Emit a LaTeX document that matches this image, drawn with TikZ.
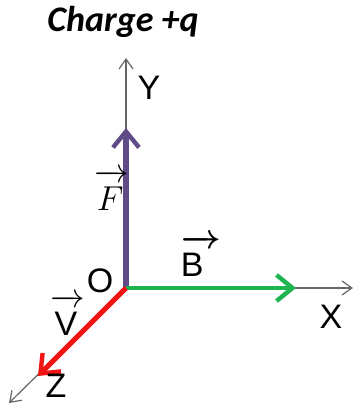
\documentclass[tikz,border=0pt]{standalone}
\usepackage{amsmath}
\usepackage{fontspec}
\setmainfont{Liberation Sans}
\newfontfamily\calfont{Carlito}
\usepackage{tikz}
\usetikzlibrary{arrows.meta,positioning}

\begin{document}
\begin{tikzpicture}[
  x=0.5pt, y=-0.5pt,
  axis/.style={draw=gray!80!black, line width=0.6pt,
    -{Straight Barb[length=5pt, width=7pt]}},
  vec/.style={-{Straight Barb[length=8pt, width=13pt, line width=2.2pt]}},
  lbl/.style={font=\fontsize{17}{19}\selectfont, inner sep=0pt, anchor=base}
]
  \useasboundingbox (0,0) rectangle (354,405);

  % Points
  \coordinate (origin) at (126,288);
  \coordinate (yend) at (126,58);
  \coordinate (xend) at (353,288);
  \coordinate (zend) at (9,403);
  \coordinate (ftip) at (126,128);
  \coordinate (btip) at (296,288);
  \coordinate (vtip) at (38,376);

  % Axes
  \draw[axis] (origin) -- (yend);
  \draw[axis] (origin) -- (xend);
  \draw[axis] (origin) -- (zend);

  % Vectors
  \draw[vec, line width=2.6pt, draw={rgb,255:red,95;green,75;blue,135}] (origin) -- (ftip);
  \draw[vec, line width=2.2pt, draw={rgb,255:red,30;green,180;blue,80}] (origin) -- (btip);
  \draw[vec, line width=2.6pt, draw={rgb,255:red,240;green,20;blue,20}] (origin) -- (vtip);

  % Labels
  \node[font=\calfont\bfseries\itshape\fontsize{18}{20}\selectfont] (title) at (123,22) {Charge +q};
  \node[lbl] (ylabel) at (149,100) {Y};
  \node[lbl] (xlabel) at (331,328) {X};
  \node[lbl] (zlabel) at (56,397) {Z};
  \node[lbl] (olabel) at (100,292) {O};
  \node[lbl] (flabel) at (112,210) {$\overrightarrow{F\mkern2mu\rule{0pt}{0.8em}}$};
  \node[lbl, font=\fontsize{17}{19}\selectfont\boldmath] (blabel) at (201,276) {$\overrightarrow{\hbox{\mdseries B}\mkern8mu\rule{0pt}{0.8em}}$};
  \node[lbl] (vlabel) at (68,335) {$\overrightarrow{\hbox{V}\mkern2mu\rule{0pt}{0.8em}}$};
\end{tikzpicture}
\end{document}
